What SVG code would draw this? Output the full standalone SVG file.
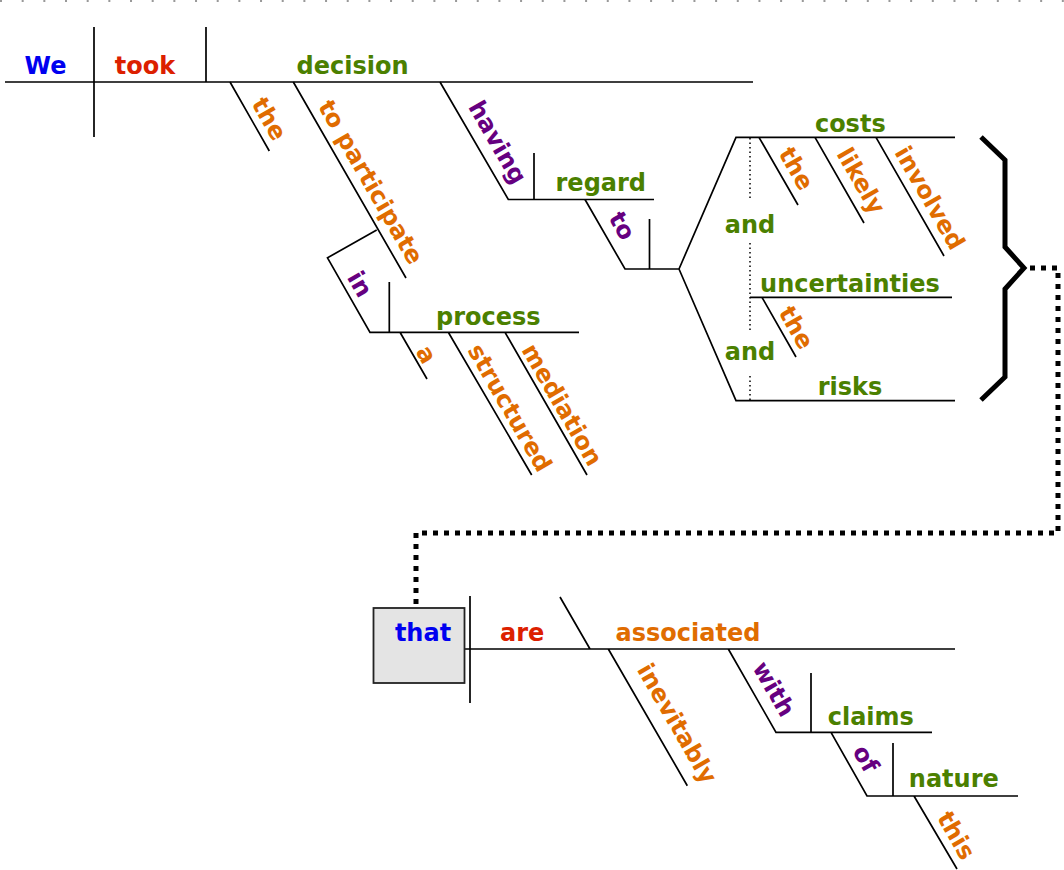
<svg xmlns="http://www.w3.org/2000/svg" width="1064" height="870" viewBox="0 0 1064 870">
<style>
text{font-family:"DejaVu Sans","Liberation Sans",sans-serif;font-weight:bold;font-size:24px;text-anchor:middle}
.subj{fill:#0000f0}.verb{fill:#dc2000}.noun{fill:#4b8000}.mod{fill:#e06c00}.prep{fill:#660080}
.ln{stroke:#000;stroke-width:1.7;fill:none}
.dot{stroke:#000;stroke-width:1.5;stroke-dasharray:1.5 3;fill:none}
</style>
<line x1="0" y1="1" x2="1064" y2="1" stroke="#999" stroke-width="2" stroke-dasharray="2 19.67"/>
<g id="connectors">
<path class="ln" d="M5 82H753M94 27V137M206 27V82"/>
<path class="ln" d="M230 82L269.3 151M293.3 82L406 278M440 82L508.3 199.5H654M534 153V199.5"/>
<path class="ln" d="M376.7 230L327.5 257.8L370 332.3H579M389.3 282V332.3M400 332.3L427 379M448.3 332.3L531.7 475M505 332.3L587 475"/>
<path class="ln" d="M585 199.5L625 269H679M649.5 219V269M679 269L736 137.3H955M679 269L736 400.7H955M750 297.3H952"/>
<path class="ln" d="M759 137.3L798 205M815 137.3L864 223M876 137.3L944 256M762 297.3L796 357"/>
<path class="dot" d="M750 138V198M750 243V330M750 376V400"/>
<path d="M981 137L1005 160V247L1024 268L1005 289V377L981 400" fill="none" stroke="#000" stroke-width="5"/>
<path d="M1030 268H1058V533H416V608" fill="none" stroke="#000" stroke-width="5" stroke-dasharray="5 6"/>
<path class="ln" d="M387 649H955M470 596V703M560 597L590 649M608.3 649L687.3 785.7M728.3 649L776 732.3H932M811 673V732.3M831 732.3L867 796H1018M893 743V796M914 796L957 869"/>
</g>
<g id="n-we"><text class="subj" x="45.5" y="74">We</text></g>
<g id="n-took"><text class="verb" x="145" y="74">took</text></g>
<g id="n-decision"><text class="noun" x="352.5" y="74">decision</text></g>
<g id="n-the1"><text class="mod" transform="translate(262.3 122.9) rotate(60)">the</text></g>
<g id="n-toparticipate"><text class="mod" transform="translate(363.8 186.2) rotate(60)">to participate</text></g>
<g id="n-having"><text class="prep" transform="translate(490.5 146.4) rotate(60)">having</text></g>
<g id="n-regard"><text class="noun" x="600.8" y="190.5">regard</text></g>
<g id="n-in"><text class="prep" transform="translate(352.8 288.1) rotate(60)">in</text></g>
<g id="n-process"><text class="noun" x="488.3" y="324.5">process</text></g>
<g id="n-a"><text class="mod" transform="translate(419.3 358.5) rotate(60)">a</text></g>
<g id="n-structured"><text class="mod" transform="translate(502.7 411.9) rotate(60)">structured</text></g>
<g id="n-mediation"><text class="mod" transform="translate(555.1 408.8) rotate(60)">mediation</text></g>
<g id="n-to"><text class="prep" transform="translate(615 229.9) rotate(60)">to</text></g>
<g id="n-costs"><text class="noun" x="850.3" y="131.5">costs</text></g>
<g id="n-the2"><text class="mod" transform="translate(789.2 172.6) rotate(60)">the</text></g>
<g id="n-likely"><text class="mod" transform="translate(853.9 184.9) rotate(60)">likely</text></g>
<g id="n-involved"><text class="mod" transform="translate(922.6 202) rotate(60)">involved</text></g>
<g id="n-and1"><text class="noun" x="750" y="232.5">and</text></g>
<g id="n-uncertainties"><text class="noun" x="850" y="291.5">uncertainties</text></g>
<g id="n-the3"><text class="mod" transform="translate(789.2 331.7) rotate(60)">the</text></g>
<g id="n-and2"><text class="noun" x="750" y="360">and</text></g>
<g id="n-risks"><text class="noun" x="850" y="395">risks</text></g>
<g id="n-that"><rect x="373.5" y="608" width="91" height="75" fill="#e4e4e4" stroke="#222" stroke-width="1.8"/><text class="subj" x="423" y="641">that</text></g>
<g id="n-are"><text class="verb" x="522.2" y="641">are</text></g>
<g id="n-associated"><text class="mod" x="688" y="641">associated</text></g>
<g id="n-inevitably"><text class="mod" transform="translate(670 727.5) rotate(60)">inevitably</text></g>
<g id="n-with"><text class="prep" transform="translate(766.7 693) rotate(60)">with</text></g>
<g id="n-claims"><text class="noun" x="870.8" y="725">claims</text></g>
<g id="n-of"><text class="prep" transform="translate(858.7 762.9) rotate(60)">of</text></g>
<g id="n-nature"><text class="noun" x="953.8" y="787">nature</text></g>
<g id="n-this"><text class="mod" transform="translate(949.2 839.5) rotate(60)">this</text></g>
</svg>
